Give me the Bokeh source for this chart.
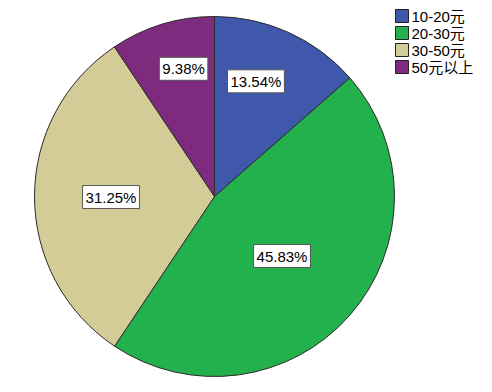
import math
from bokeh.plotting import figure
from bokeh.models import ColumnDataSource, Range1d
from bokeh.core.properties import value
from bokeh.embed import file_html
from bokeh.resources import INLINE

categories = ["10-20元", "20-30元", "30-50元", "50元以上"]
percents = [13.54, 45.83, 31.25, 9.38]
colors = ["#3f58ab", "#22b14c", "#d4cc97", "#7e2a7e"]
# label placement (style): fraction of radius, fraction along the slice
label_radius_frac = [0.68, 0.50, 0.575, 0.73]
label_angle_frac = [0.406, 0.501, 0.4975, 0.597]

W, H = 492, 392
cx, cy, R = 214, 196, 180

total = sum(percents)
starts, ends, lx, ly, texts = [], [], [], [], []
cum = 0.0
for pc, f, af in zip(percents, label_radius_frac, label_angle_frac):
    a0 = math.pi / 2 - 2 * math.pi * cum / total
    cum += pc
    a1 = math.pi / 2 - 2 * math.pi * cum / total
    starts.append(a1)
    ends.append(a0)
    mid = a0 + (a1 - a0) * af
    lx.append(cx + f * R * math.cos(mid))
    ly.append(cy + f * R * math.sin(mid))
    texts.append(f"{pc:.2f}%")

src = ColumnDataSource(dict(cat=categories, start=starts, end=ends, color=colors,
                            x=[cx] * 4, y=[cy] * 4))
lsrc = ColumnDataSource(dict(x=lx, y=ly, t=texts))

p = figure(width=W, height=H, output_backend="svg", toolbar_location=None,
           x_range=Range1d(0, W), y_range=Range1d(0, H), min_border=0)
p.axis.visible = False
p.grid.visible = False
p.outline_line_color = None

p.wedge(x="x", y="y", radius=R, start_angle="start", end_angle="end",
        fill_color="color", line_color="#2b2b2b", line_width=1, source=src)

p.text(x="x", y="y", text="t", source=lsrc, text_align="center",
       text_baseline="middle", text_font_size="15px",
       text_font=value("Liberation Sans"), text_color="black",
       background_fill_color="white", border_line_color="#555555",
       border_line_width=1, padding=3)

# legend (drawn manually, top-right)
leg_x0, leg_top, leg_pitch, box = 395, 15.5, 17, 13
leg_y = [H - (leg_top + leg_pitch * i) for i in range(len(categories))]
lg = ColumnDataSource(dict(x=[leg_x0 + box / 2] * len(categories), y=leg_y,
                           tx=[leg_x0 + box + 3] * len(categories),
                           cat=categories, color=colors))
p.rect(x="x", y="y", width=box, height=box, width_units="screen",
       height_units="screen", fill_color="color", line_color="#222222",
       line_width=1, source=lg)
p.text(x="tx", y="y", text="cat", source=lg, text_align="left",
       text_baseline="middle", text_font_size="15px",
       text_font=value("'Liberation Sans', 'Noto Sans CJK SC'"),
       text_color="black")

open("out.html", "w").write(file_html(p, INLINE))
